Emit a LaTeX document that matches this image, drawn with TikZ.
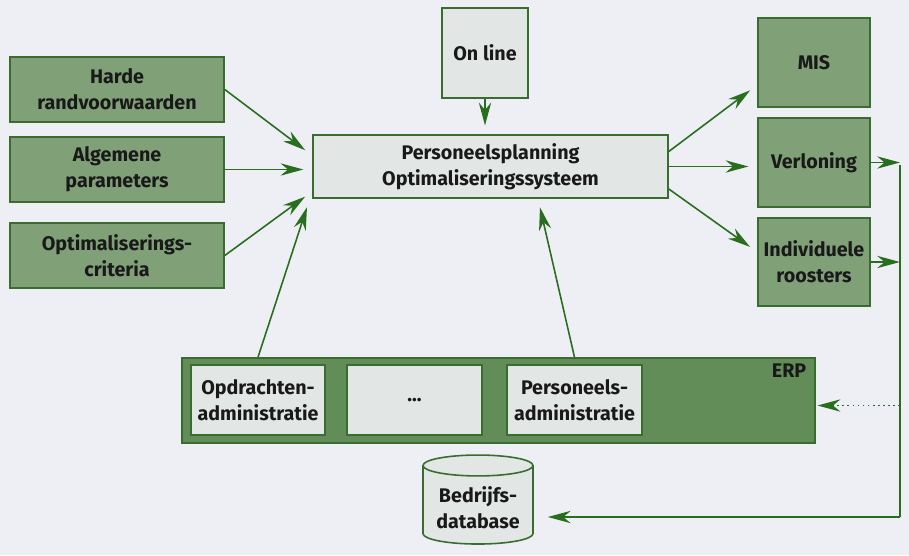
\documentclass[tikz,border=0pt]{standalone}
\usepackage{fontspec}
\setmainfont{Fira Sans}
\usetikzlibrary{arrows.meta,shapes.geometric}

\definecolor{bgcol}{RGB}{238,238,245}
\definecolor{boxgreen}{RGB}{128,160,120}
\definecolor{erpgreen}{RGB}{98,140,88}
\definecolor{lightbox}{RGB}{226,230,228}
\definecolor{bordergreen}{RGB}{58,108,48}
\definecolor{arrowgreen}{RGB}{40,110,30}

\begin{document}
\begin{tikzpicture}[
    every node/.style={font=\fontsize{11.2}{14.8}\selectfont\bfseries, text=black!90},
    box/.style={rectangle, draw=bordergreen, line width=0.9pt, align=center, inner sep=2pt},
    input/.style={box, fill=boxgreen, minimum width=4.28cm, minimum height=1.3cm},
    output/.style={box, fill=boxgreen, minimum width=2.24cm, minimum height=1.78cm},
    system/.style={box, fill=lightbox},
    module/.style={box, fill=lightbox, minimum width=2.7cm, minimum height=1.4cm},
    arr/.style={draw=arrowgreen, line width=0.9pt, -{Stealth[length=13pt,width=7pt]}, shorten >=5pt},
    bus/.style={draw=arrowgreen, line width=0.9pt}
]

% Background of the page
\fill[bgcol] (0,0) rectangle (18.18,11.1);

% Inputs on the left
\node[input] (harde) at (2.34, 9.31) {Harde\\randvoorwaarden};
\node[input] (algemeen) at (2.34, 7.71) {Algemene\\parameters};
\node[input] (criteria) at (2.34, 5.99) {Optimaliserings-\\criteria};

% Central system
\node[system, minimum width=7.1cm, minimum height=1.26cm] (kern) at (9.81, 7.77) {Personeelsplanning\\Optimaliseringssysteem};
\node[system, minimum width=1.72cm, minimum height=1.8cm] (online) at (9.7, 10.04) {On line};

% Outputs on the right
\node[output] (mis) at (16.28, 9.85) {MIS};
\node[output] (verloning) at (16.28, 7.85) {Verloning};
\node[output, minimum height=1.76cm] (rooster) at (16.28, 5.86) {Individuele\\roosters};

% ERP with its modules
\node[box, fill=erpgreen, minimum width=12.66cm, minimum height=1.7cm] (erp) at (9.97, 3.09) {};
\node[anchor=north east] (erplabel) at (16.25, 3.95) {ERP};
\node[module, minimum width=2.68cm] (opdracht) at (5.16, 3.1) {Opdrachten-\\administratie};
\node[module] (overig) at (8.29, 3.1) {...};
\node[module] (personeel) at (11.49, 3.1) {Personeels-\\administratie};

% Database
\node[cylinder, shape border rotate=90, aspect=0.22, draw=bordergreen, line width=0.9pt, fill=lightbox,
      minimum height=1.78cm, minimum width=2.2cm, align=center] (db) at (9.56, 0.95) {Bedrijfs-\\database};

% Return line on the right
\coordinate (bustop) at (18.0, 7.8);
\coordinate (busbot) at (18.0, 0.76);

% Edges into the system
\draw[arr] (harde.east) -- ([yshift=0.22cm]kern.west);
\draw[arr] (algemeen.east) -- (algemeen.east -| kern.west);
\draw[arr] (criteria.east) -- ([yshift=-0.5cm]kern.west);
\draw[arr] (opdracht.north |- erp.north) -- ([xshift=-0.05cm]kern.south west);
\draw[arr] (personeel.north |- erp.north) -- ([xshift=0.95cm]kern.south);
\draw[arr] (online.south) -- (online.south |- kern.north);

% Edges out of the system
\draw[arr] ([yshift=0.3cm]kern.east) -- ([yshift=-0.45cm]mis.west);
\draw[arr] (kern.east) -- (kern.east -| verloning.west);
\draw[arr] ([yshift=-0.45cm]kern.east) -- ([yshift=0.2cm]rooster.west);

% Edges to ERP and database
\draw[arr, shorten >=0pt] (verloning.east) -- (verloning.east -| bustop);
\draw[arr, shorten >=0pt] (rooster.east) -- (rooster.east -| bustop);
\draw[bus] (bustop) -- (busbot);
\draw[arr, dotted, shorten >=1pt] ([yshift=-0.1cm]erp.east -| bustop) -- ([yshift=-0.1cm]erp.east);
\draw[arr, shorten >=0.28cm] (busbot) -- (busbot -| db.east);

\end{tikzpicture}
\end{document}
